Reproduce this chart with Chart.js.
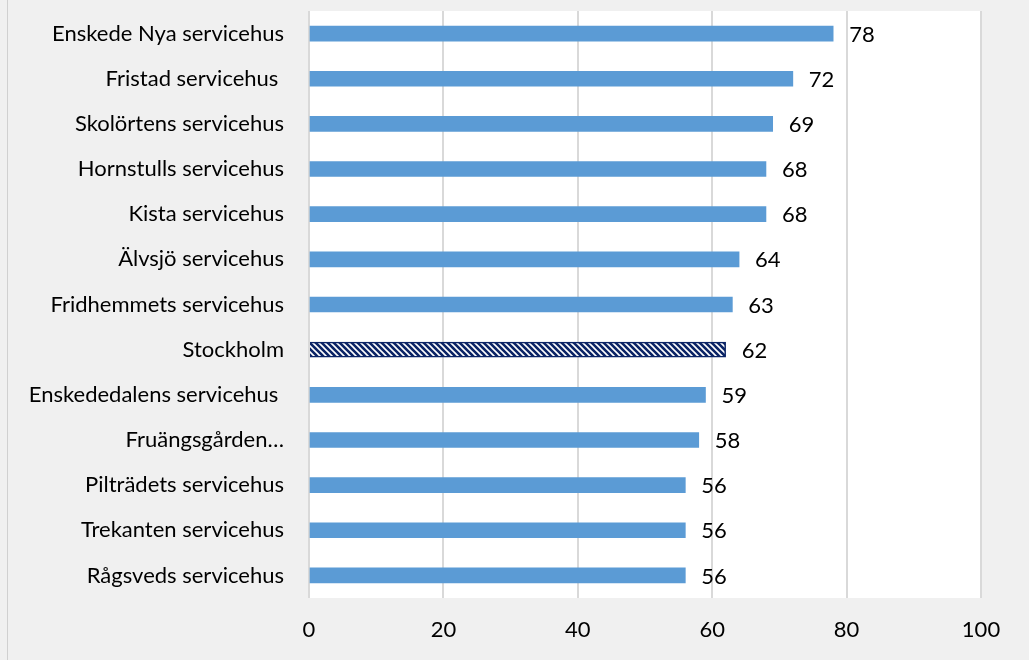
<!DOCTYPE html>
<html lang="sv">
<head>
    <meta charset="UTF-8">
    <title>Servicehus</title>
    <script src="https://cdn.jsdelivr.net/npm/chart.js"></script>
    <style>
        html, body { margin: 0; padding: 0; background: #f0f0f0; }
        .frame { position: absolute; left: 7px; top: 0; width: 1022px; height: 660px; border-left: 1px solid #d0d0d0; }
        .wrap { position: absolute; left: 0; top: 0; width: 1029px; height: 660px; }
    </style>
</head>
<body>
    <div class="frame"></div>
    <div class="wrap"><canvas id="chart" width="1029" height="660"></canvas></div>

    <script>
        const categories = [
            'Enskede Nya servicehus',
            'Fristad servicehus ',
            'Skolörtens servicehus',
            'Hornstulls servicehus',
            'Kista servicehus',
            'Älvsjö servicehus',
            'Fridhemmets servicehus',
            'Stockholm',
            'Enskededalens servicehus ',
            'Fruängsgården…',
            'Pilträdets servicehus',
            'Trekanten servicehus',
            'Rågsveds servicehus'
        ];
        const values = [78, 72, 69, 68, 68, 64, 63, 62, 59, 58, 56, 56, 56];
        const xTicks = [0, 20, 40, 60, 80, 100];

        const FONT = 'Lato, sans-serif';
        const FSIZE = 22;
        const NAVY = '#0b2466';

        // striped pattern for the Stockholm bar
        function stripePattern() {
            const c = document.createElement('canvas');
            c.width = 6; c.height = 6;
            const g = c.getContext('2d');
            g.fillStyle = NAVY;
            g.fillRect(0, 0, 6, 6);
            g.strokeStyle = '#ffffff';
            g.lineWidth = 1.6;
            g.beginPath();
            g.moveTo(-3, -3); g.lineTo(9, 9);
            g.moveTo(-3, 3); g.lineTo(3, 9);
            g.moveTo(3, -3); g.lineTo(9, 3);
            g.stroke();
            return document.getElementById('chart').getContext('2d').createPattern(c, 'repeat');
        }
        const pattern = stripePattern();
        const isStockholm = categories.map(c => c === 'Stockholm');
        const colors = isStockholm.map(s => s ? pattern : '#5b9bd5');
        const borderWidths = isStockholm.map(s => s ? 1.5 : 0);

        const plotBg = {
            id: 'plotBg',
            beforeDraw(chart) {
                const { ctx, chartArea: a } = chart;
                ctx.save();
                ctx.fillStyle = '#ffffff';
                ctx.fillRect(a.left, a.top, a.right - a.left, a.bottom - a.top);
                ctx.restore();
            }
        };

        const valueLabels = {
            id: 'valueLabels',
            afterDatasetsDraw(chart) {
                const { ctx } = chart;
                const meta = chart.getDatasetMeta(0);
                ctx.save();
                ctx.font = FSIZE + 'px ' + FONT;
                ctx.fillStyle = '#000000';
                ctx.textAlign = 'left';
                ctx.textBaseline = 'middle';
                meta.data.forEach((bar, i) => {
                    ctx.fillText(values[i], bar.x + 16, bar.y + 1);
                });
                ctx.restore();
            }
        };

        new Chart(document.getElementById('chart'), {
            type: 'bar',
            data: {
                labels: categories,
                datasets: [{
                    data: values,
                    backgroundColor: colors,
                    borderColor: NAVY,
                    borderWidth: borderWidths,
                    barThickness: 15
                }]
            },
            options: {
                indexAxis: 'y',
                responsive: false,
                animation: false,
                layout: { padding: { left: 0, right: 48, top: 11, bottom: 0 } },
                plugins: { legend: { display: false }, tooltip: { enabled: false } },
                scales: {
                    x: {
                        min: 0, max: 100,
                        afterBuildTicks(axis) { axis.ticks = xTicks.map(v => ({ value: v })); },
                        afterFit(axis) {
                            axis.height = 62;
                            axis.paddingLeft = 0; axis.paddingRight = 0;
                        },
                        grid: { color: '#d9d9d9', lineWidth: 2, drawTicks: false },
                        border: { display: false },
                        ticks: { color: '#000', padding: 19, font: { family: FONT, size: FSIZE } }
                    },
                    y: {
                        afterFit(axis) {
                            axis.width = 309;
                            axis.paddingTop = 0; axis.paddingBottom = 0;
                        },
                        grid: { display: false, drawTicks: false },
                        border: { display: false },
                        ticks: { color: '#000', padding: 25, font: { family: FONT, size: FSIZE } }
                    }
                }
            },
            plugins: [plotBg, valueLabels]
        });
    </script>
</body>
</html>
